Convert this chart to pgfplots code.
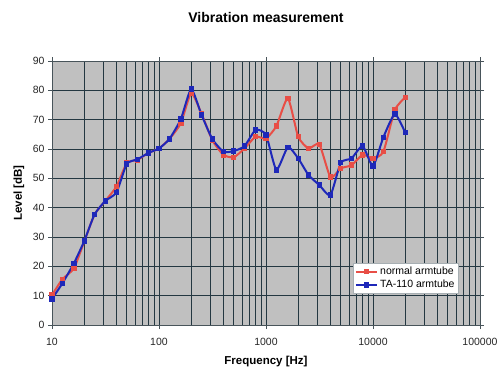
\documentclass[border=0pt]{standalone}
\usepackage{pgfplots}
\pgfplotsset{compat=1.18}
\usepackage{fontspec}
\setmainfont{Liberation Sans}
\definecolor{redline}{RGB}{232,78,70}
\definecolor{blueline}{RGB}{30,40,185}
\definecolor{plotbg}{RGB}{192,192,192}
\definecolor{gridc}{RGB}{35,55,65}
\begin{document}
\begin{tikzpicture}[x=1pt,y=1pt]
\path[use as bounding box] (-52pt,-45pt) rectangle (445pt,325pt);
\begin{axis}[
  at={(0,0)}, anchor=south west,
  scale only axis, width=428pt, height=264pt,
  xmode=log, xmin=10, xmax=100000,
  ymin=0, ymax=90,
  ytick={0,10,...,90},
  xtick={10,100,1000,10000,100000},
  xticklabels={10,100,1000,10000,100000},
  minor xtick={20,30,40,50,60,70,80,90,200,300,400,500,600,700,800,900,2000,3000,4000,5000,6000,7000,8000,9000,20000,30000,40000,50000,60000,70000,80000,90000},
  grid=both,
  major grid style={gridc, line width=0.8pt},
  minor grid style={gridc, line width=0.8pt},
  axis background/.style={fill=plotbg},
  axis line style={gridc!60!gray, line width=0.8pt},
  tick align=outside,
  major tick length=4pt, minor tick length=0pt,
  tick style={gridc!60!gray, line width=0.6pt},
  /pgf/number format/assume math mode=true,
  ticklabel style={font=\fontsize{10.5}{12}\selectfont, text=black!85},
  xticklabel style={yshift=-6pt},
  title={Vibration measurement},
  title style={font=\fontsize{14}{16}\selectfont\bfseries, at={(axis description cs:0.5,1)}, anchor=center, yshift=38pt},
  xlabel={Frequency [Hz]},
  xlabel style={font=\fontsize{11.5}{13}\selectfont\bfseries, at={(axis description cs:0.5,0)}, anchor=center, yshift=-37pt},
  ylabel={Level [dB]},
  ylabel style={font=\fontsize{11.5}{13}\selectfont\bfseries, at={(axis description cs:0,0.5)}, anchor=center, yshift=33pt},
  legend style={at={(axis description cs:0.703,0.235)}, anchor=north west, font=\fontsize{10.5}{13}\selectfont, draw=gridc!40, fill=white, inner xsep=2pt, inner ysep=2pt, legend cell align=left},
  legend image code/.code={\draw[#1, line width=1.8pt] (0pt,0pt) -- (0.75cm,0pt); \draw[#1, mark repeat=1] plot coordinates {(0.375cm,0pt)};},
]
\addplot[redline, line width=2pt, smooth, tension=0.35, mark=square*, mark size=1.7pt, mark options={solid}] coordinates {
(10,10.2)(12.5,15.6)(16,19.3)(20,28.4)(25,37.7)(31.5,42.3)(40,47.2)(50,55.2)(63,56.3)(80,58.7)(100,60.2)(125,63.4)(160,68.8)(200,79)(250,72)(315,63)(400,58)(500,57.2)(630,60.2)(800,64.2)(1000,63.6)(1250,67.8)(1600,77.3)(2000,64.2)(2500,60.2)(3150,61.6)(4000,50.4)(5000,53.4)(6300,54.5)(8000,58)(10000,56.8)(12500,59.1)(16000,73.3)(20000,77.6)
};
\addlegendentry{normal armtube}
\addplot[blueline, line width=2pt, smooth, tension=0.35, mark=square*, mark size=1.7pt, mark options={solid}] coordinates {
(10,8.9)(12.5,14.2)(16,21)(20,28.6)(25,37.7)(31.5,42.3)(40,45.2)(50,54.9)(63,56.5)(80,58.7)(100,60.2)(125,63.4)(160,70.2)(200,80.4)(250,71.6)(315,63.4)(400,59.1)(500,59.3)(630,61)(800,66.5)(1000,64.8)(1250,52.9)(1600,60.6)(2000,56.8)(2500,51.1)(3150,47.7)(4000,44.3)(5000,55.3)(6300,56.8)(8000,61)(10000,54.2)(12500,64)(16000,71.9)(20000,65.6)
};
\addlegendentry{TA-110 armtube}
\end{axis}
\end{tikzpicture}
\end{document}
